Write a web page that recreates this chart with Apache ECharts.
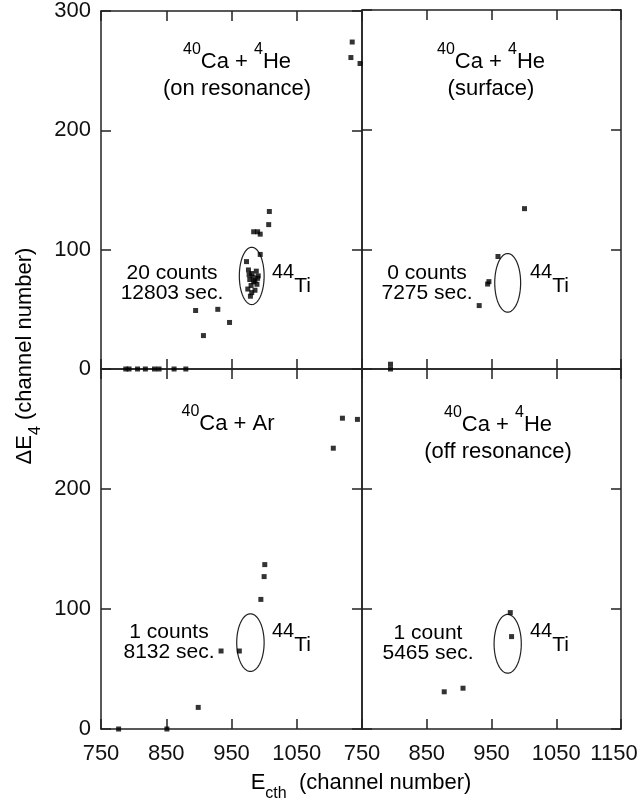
<!DOCTYPE html>
<html><head><meta charset="utf-8">
<script src="https://cdn.jsdelivr.net/npm/echarts@6/dist/echarts.min.js"></script>
<style>html,body{margin:0;padding:0;background:#fff}#c{width:644px;height:809px}</style>
</head><body><div id="c"></div>
<script>
// ---- data ----
const xMin = 750, xMax = 1150, xStep = 100;
const yMin = 0, yMax = 300, yStep = 100;

// panel 1: 40Ca + 4He (on resonance)
const onResX = [1135, 1133, 1147, 1008, 1007, 984, 990, 994, 994, 973,
  976, 981, 988, 991, 978, 984, 989, 975, 981, 979, 986, 983, 986, 980, 990, 977,
  895, 929, 907, 947, 788, 793, 806, 818, 832, 839, 862, 880];
const onResY = [274, 261, 256, 132, 121, 115, 115, 113, 96, 90,
  83, 80, 82, 78, 75, 73, 71, 67, 64, 61, 66, 77, 74, 70, 76, 79,
  49, 50, 28, 39, 0, 0, 0, 0, 0, 0, 0, 0];
// panel 2: 40Ca + 4He (surface)
const surfX = [1001, 960, 944, 946, 931, 794, 794];
const surfY = [134, 94, 71, 73, 53, 0, 4];
// panel 3: 40Ca + Ar
const arX = [1120, 1143, 1106, 1001, 1000, 995, 962, 934, 899, 777, 851];
const arY = [259, 258, 234, 137, 127, 108, 65, 65, 18, 0, 0];
// panel 4: 40Ca + 4He (off resonance)
const offX = [979, 981, 877, 906];
const offY = [97, 77, 31, 34];

// 44Ti gate ellipses: [centerX, centerY, radiusX, radiusY]
const gates = [
  [981, 78, 19, 24],
  [975, 72, 20, 24.5],
  [979, 72, 21, 24],
  [975, 71, 21, 24.5]
];

const titles = [
  ['40', 'Ca + ', '4', 'He', '(on resonance)'],
  ['40', 'Ca + ', '4', 'He', '(surface)'],
  ['40', 'Ca + Ar', '', '', ''],
  ['40', 'Ca + ', '4', 'He', '(off resonance)']
];
const countsText = [
  ['20 counts', '12803 sec.'],
  ['0 counts', '7275 sec.'],
  ['1 counts', '8132 sec.'],
  ['1 count', '5465 sec.']
];

// ---- layout ----
const FONT = 'Liberation Sans, Arial, Helvetica, sans-serif';
const INK = '#111';
const LINE = '#222';
const grids = [
  {left: 101, top: 10, width: 261, height: 359},
  {left: 362, top: 10, width: 259, height: 359},
  {left: 101, top: 369, width: 261, height: 360},
  {left: 362, top: 369, width: 259, height: 360}
];
// annotation anchors (pixels)
const titlePos = [[237, 42], [491, 42], [228, 404], [498, 405]];
const countPos = [[172, 263], [427, 263], [169, 622], [428, 623]];
const tiPos = [[272, 262], [530, 262], [272, 621], [530, 621]];

const lineStyle = {color: LINE, width: 1.5};
const xAxes = [], yAxes = [];
for (let i = 0; i < 4; i++) {
  const bottomRow = i >= 2, leftCol = i % 2 === 0;
  xAxes.push({
    gridIndex: i, type: 'value', min: xMin, max: xMax, interval: xStep, position: 'bottom',
    axisLine: {show: true, onZero: false, lineStyle},
    axisTick: {show: true, inside: true, length: 10, lineStyle},
    splitLine: {show: false},
    axisLabel: {
      show: bottomRow, showMaxLabel: !leftCol, margin: 14, fontSize: 22, color: INK, fontFamily: FONT,
      formatter: v => (v === xMax ? '{e|' + v + '}' : String(v)),
      rich: {e: {fontSize: 22, fontFamily: FONT, color: INK, padding: [0, 14, 0, 0]}}
    }
  });
  yAxes.push({
    gridIndex: i, type: 'value', min: yMin, max: yMax, interval: yStep, position: 'left',
    axisLine: {show: true, onZero: false, lineStyle},
    axisTick: {show: true, inside: true, length: 10, lineStyle},
    splitLine: {show: false},
    axisLabel: {show: leftCol, showMaxLabel: !bottomRow, margin: 10, fontSize: 22, color: INK, fontFamily: FONT,
      formatter: v => String(v)}
  });
}
for (let i = 0; i < 4; i++) {
  xAxes.push({
    gridIndex: i, type: 'value', min: xMin, max: xMax, interval: xStep, position: 'top',
    axisLine: {show: true, onZero: false, lineStyle},
    axisTick: {show: true, inside: true, length: 10, lineStyle},
    splitLine: {show: false}, axisLabel: {show: false}
  });
  yAxes.push({
    gridIndex: i, type: 'value', min: yMin, max: yMax, interval: yStep, position: 'right',
    axisLine: {show: true, onZero: false, lineStyle},
    axisTick: {show: true, inside: true, length: 10, lineStyle},
    splitLine: {show: false}, axisLabel: {show: false}
  });
}

const pointSets = [[onResX, onResY], [surfX, surfY], [arX, arY], [offX, offY]];
const series = [];
pointSets.forEach(([xs, ys], i) => {
  series.push({
    type: 'scatter', xAxisIndex: i, yAxisIndex: i, clip: false,
    symbol: 'rect', symbolSize: 5, itemStyle: {color: '#000'},
    data: xs.map((x, k) => [x, ys[k]]), silent: true
  });
  series.push({
    type: 'custom', xAxisIndex: i, yAxisIndex: i, silent: true,
    data: [gates[i]],
    renderItem: function (params, api) {
      const cx = api.value(0), cy = api.value(1), rx = api.value(2), ry = api.value(3);
      const pts = [];
      for (let k = 0; k < 96; k++) {
        const t = k / 96 * Math.PI * 2;
        pts.push(api.coord([cx + rx * Math.cos(t), cy + ry * Math.sin(t)]));
      }
      return {type: 'polygon', shape: {points: pts}, style: {fill: null, stroke: '#222', lineWidth: 1.2}};
    }
  });
});

const rich = {
  sup: {fontSize: 16, fontFamily: FONT, color: INK, verticalAlign: 'top', lineHeight: 16},
  m: {fontSize: 22, fontFamily: FONT, color: INK, verticalAlign: 'top', padding: [9, 0, 0, 0]},
  m2: {fontSize: 22, fontFamily: FONT, color: INK, lineHeight: 32},
  c: {fontSize: 21, fontFamily: FONT, color: INK, lineHeight: 20},
  ts: {fontSize: 20, fontFamily: FONT, color: INK, verticalAlign: 'top', lineHeight: 18},
  tm: {fontSize: 21, fontFamily: FONT, color: INK, verticalAlign: 'top', padding: [14, 0, 0, 0]},
  sub: {fontSize: 16, fontFamily: FONT, color: INK, verticalAlign: 'top', padding: [14, 0, 0, 0]},
  an: {fontSize: 22, fontFamily: FONT, color: INK, verticalAlign: 'top', lineHeight: 22}
};

const graphic = [];
titles.forEach((t, i) => {
  let s = '{sup|' + t[0] + '}{m|' + t[1] + '}';
  if (t[2]) s += '{sup|' + t[2] + '}{m|' + t[3] + '}';
  if (t[4]) s += '\n{m2|' + t[4] + '}';
  graphic.push({type: 'text', x: titlePos[i][0], y: titlePos[i][1], silent: true,
    style: {text: s, rich, align: 'center', verticalAlign: 'top'}});
  graphic.push({type: 'text', x: countPos[i][0], y: countPos[i][1], silent: true,
    style: {text: '{c|' + countsText[i][0] + '}\n{c|' + countsText[i][1] + '}', rich, align: 'center', verticalAlign: 'top'}});
  graphic.push({type: 'text', x: tiPos[i][0], y: tiPos[i][1], silent: true,
    style: {text: '{ts|44}{tm|Ti}', rich, align: 'left', verticalAlign: 'top'}});
});
// axis names
graphic.push({type: 'text', x: 361, y: 772, silent: true,
  style: {text: '{an|E}{sub|cth}{an|  (channel number)}', rich, align: 'center', verticalAlign: 'top'}});
graphic.push({type: 'text', x: 14, y: 356, rotation: Math.PI / 2, silent: true,
  style: {text: '{an|\u0394E}{sub|4}{an| (channel number)}', rich, align: 'center', verticalAlign: 'top'}});

const chart = echarts.init(document.getElementById('c'), null, {renderer: 'canvas'});
chart.setOption({
  animation: false,
  backgroundColor: '#fff',
  grid: grids.map(g => Object.assign({containLabel: false}, g)),
  xAxis: xAxes,
  yAxis: yAxes,
  series,
  graphic
});
</script></body></html>
